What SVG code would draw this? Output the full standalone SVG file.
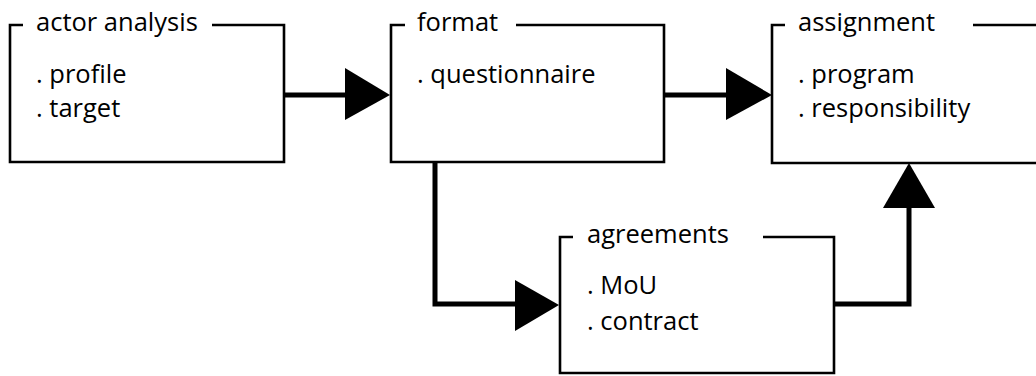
<svg xmlns="http://www.w3.org/2000/svg" width="1036" height="376" viewBox="0 0 1036 376">
<style>
.frame{fill:none;stroke:#000;stroke-width:2.6;stroke-linejoin:miter}
.conn{fill:none;stroke:#000;stroke-width:5;stroke-linejoin:miter}
.head{fill:#000;stroke:none}
text{font-family:"Open Sans","Noto Sans",sans-serif;font-size:25.5px;fill:#000}
</style>
<rect width="1036" height="376" fill="#fff"/>
<g id="connectors">
<path class="conn" d="M284,95 H347"/>
<polygon class="head" points="345,68 390,95 345,120"/>
<path class="conn" d="M664,95 H728"/>
<polygon class="head" points="726,68 772,95 726,120"/>
<path class="conn" d="M435,162 V304 H517"/>
<polygon class="head" points="515,280 559,305 515,331"/>
<path class="conn" d="M834,304 H909 V205"/>
<polygon class="head" points="883,208 909,163 935,208"/>
</g>
<g id="actor-analysis">
<path class="frame" d="M23,25 H10 V162 H284 V25 H212"/>
<text x="36" y="31">actor analysis</text>
<text x="36" y="83">. profile</text>
<text x="36" y="117">. target</text>
</g>
<g id="format">
<path class="frame" d="M405,25 H391 V162 H664 V25 H516"/>
<text x="417" y="31">format</text>
<text x="417" y="83">. questionnaire</text>
</g>
<g id="assignment">
<path class="frame" d="M785,25 H772 V163 H1040 M1040,25 H973"/>
<text x="798" y="31">assignment</text>
<text x="798" y="83">. program</text>
<text x="798" y="117">. responsibility</text>
</g>
<g id="agreements">
<path class="frame" d="M573,237 H560 V373 H834 V237 H763"/>
<text x="587" y="243">agreements</text>
<text x="587" y="294">. MoU</text>
<text x="587" y="330">. contract</text>
</g>
</svg>
